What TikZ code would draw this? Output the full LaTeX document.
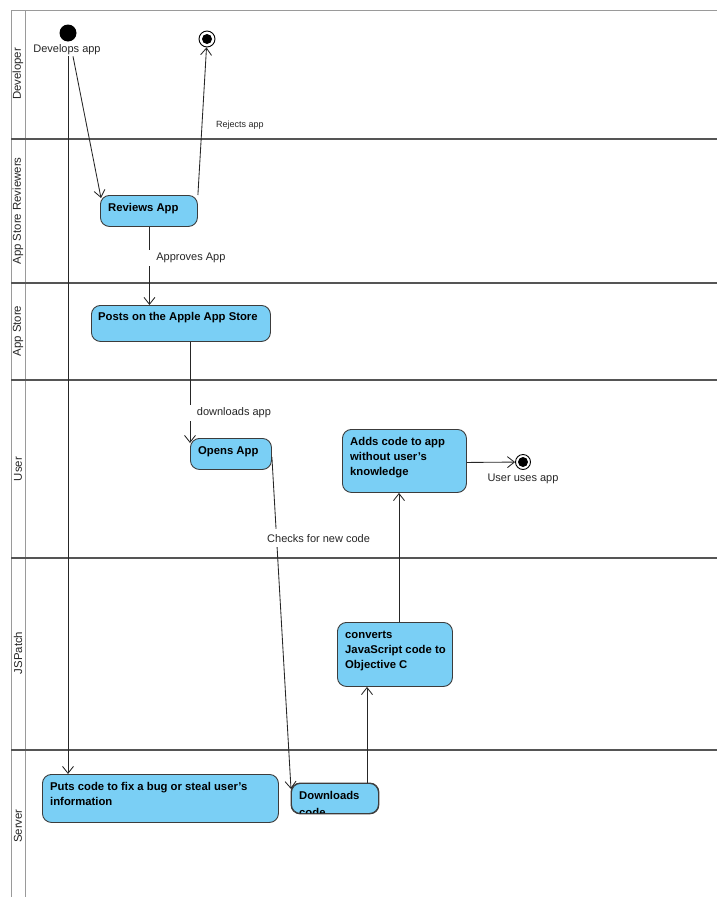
\documentclass[tikz,border=0pt]{standalone}
\usepackage{fontspec}
\setmainfont{Liberation Sans}
\usetikzlibrary{arrows.meta}
\definecolor{actfill}{HTML}{7ACFF5}
\definecolor{actdraw}{HTML}{3C3C3C}
\definecolor{laneline}{HTML}{555555}
\definecolor{frameline}{HTML}{9A9A9A}
\begin{document}
\begin{tikzpicture}[x=1pt,y=-1pt,
  lane/.style={draw=laneline,line width=1.1pt},
  frame/.style={draw=frameline,line width=1pt},
  lanelabel/.style={rotate=90,font=\fontsize{11.4}{13}\selectfont,text=black!85},
  actbox/.style={draw=actdraw,fill=actfill,line width=0.9pt,rounded corners=9pt,
    anchor=north west,inner sep=0pt},
  acttext/.style={anchor=north west,inner sep=0pt,align=left,
    font=\fontsize{11.3}{15}\selectfont\bfseries},
  flow/.style={draw=black!85,line width=0.85pt,-{Straight Barb[length=7pt,width=11pt]}},
  edgelabel/.style={fill=white,font=\fontsize{11}{13}\selectfont,text=black!85},
  startdot/.style={circle,fill=black,minimum size=17pt,inner sep=0pt},
  enddot/.style={circle,draw=black,fill=white,line width=0.9pt,minimum size=16pt,inner sep=0pt,
    path picture={\fill[black] (path picture bounding box.center) circle (5pt);}},
]
\useasboundingbox (0,0) rectangle (717,897);

% swimlane frame
\draw[frame] (11,10) -- (717,10);
\draw[frame] (11,10) -- (11,897);
\draw[frame] (25,10) -- (25,897);
\foreach \yy in {139,283,380,558,750}
  \draw[lane] (11,\yy) -- (717,\yy);

% lane titles
\node[lanelabel] (lDev) at (18,74) {Developer};
\node[lanelabel] (lRev) at (18,211) {App Store Reviewers};
\node[lanelabel] (lStore) at (18,331) {App Store};
\node[lanelabel] (lUser) at (18,469) {User};
\node[lanelabel] (lJS) at (18,653) {JSPatch};
\node[lanelabel] (lSrv) at (18,826) {Server};

% initial and final states
\node[startdot] (start) at (68,33) {};
\node[font=\fontsize{11}{13}\selectfont,text=black!85,inner sep=1pt] (startlbl) at (67,50) {Develops app};
\node[enddot] (fin1) at (207,39) {};
\node[enddot,minimum size=15pt] (fin2) at (523,462) {};
\node[font=\fontsize{11}{13}\selectfont,text=black!85] (fin2lbl) at (523,479) {User uses app};

% activities
\node[actbox,minimum width=97pt,minimum height=31pt] (rev) at (100,195) {};
\node[acttext] (revT) at ([shift={(8,6)}]rev.north west) {\strut Reviews App};

\node[actbox,minimum width=179pt,minimum height=36pt] (posts) at (91,305) {};
\node[acttext] (postsT) at ([shift={(7,5)}]posts.north west) {\strut Posts on the Apple App Store};

\node[actbox,minimum width=81pt,minimum height=31pt] (opens) at (190,438) {};
\node[acttext] (opensT) at ([shift={(8,6)}]opens.north west) {\strut Opens App};

\node[actbox,minimum width=124pt,minimum height=63pt] (adds) at (342,429) {};
\node[acttext] (addsT) at ([shift={(8,6)}]adds.north west) {\strut Adds code to app\\without user's\\knowledge};

\node[actbox,minimum width=115pt,minimum height=64pt] (conv) at (337,622) {};
\node[acttext] (convT) at ([shift={(8,6)}]conv.north west) {\strut converts\\JavaScript code to\\Objective C};

\node[actbox,minimum width=236pt,minimum height=48pt] (puts) at (42,774) {};
\node[acttext] (putsT) at ([shift={(8,6)}]puts.north west) {\strut Puts code to fix a bug or steal user's\\information};

% the second line of this label runs past the bottom of its box
\node[actbox,minimum width=87pt,minimum height=30pt] (dl) at (291,783) {};
\begin{scope}
  \clip[rounded corners=9pt] (dl.north west) rectangle (dl.south east);
  \node[acttext,font=\fontsize{11.3}{16.5}\selectfont\bfseries] (dlT) at ([shift={(8,5)}]dl.north west) {\strut Downloads\\code};
\end{scope}
\draw[draw=actdraw,line width=0.9pt,rounded corners=9pt] (dl.north west) rectangle (dl.south east);

% flows
\draw[flow] ([xshift=6pt]startlbl.south) -- ([shift={(1,3)}]rev.north west);
\draw[flow] (start |- startlbl.south) -- (start |- puts.north);
\draw[flow] (rev.north east) -- (fin1)
  node[pos=0.47,xshift=38pt,font=\fontsize{9}{11}\selectfont,text=black!85] (rejlbl) {Rejects app};
\draw[flow] ([xshift=0.5pt]rev.south) -- ([xshift=0.5pt]rev.south |- posts.north)
  node[edgelabel,pos=0.4,anchor=west,xshift=-2.5pt,inner xsep=9pt,inner ysep=3pt] (applbl) {Approves App};
\draw[flow] (opens.north west |- posts.south) -- ([yshift=-5pt]opens.north west)
  node[edgelabel,pos=0.7,anchor=west,xshift=-2.5pt,inner xsep=9pt,inner ysep=3pt] (dllbl) {downloads app};
\draw[flow] ([yshift=-3pt]opens.east) -- ([yshift=-6pt]dl.north west)
  node[edgelabel,pos=0.245,inner ysep=5pt,xshift=42pt] (chklbl) {Checks for new code};
\draw[flow] ([xshift=30pt]conv.south west |- dl.north) -- ([xshift=30pt]conv.south west);
\draw[flow] ([xshift=62pt]conv.north west) -- ([xshift=62pt]conv.north west |- adds.south);
\draw[flow] ([yshift=-1.5pt]adds.east) -- (fin2);
\end{tikzpicture}
\end{document}
